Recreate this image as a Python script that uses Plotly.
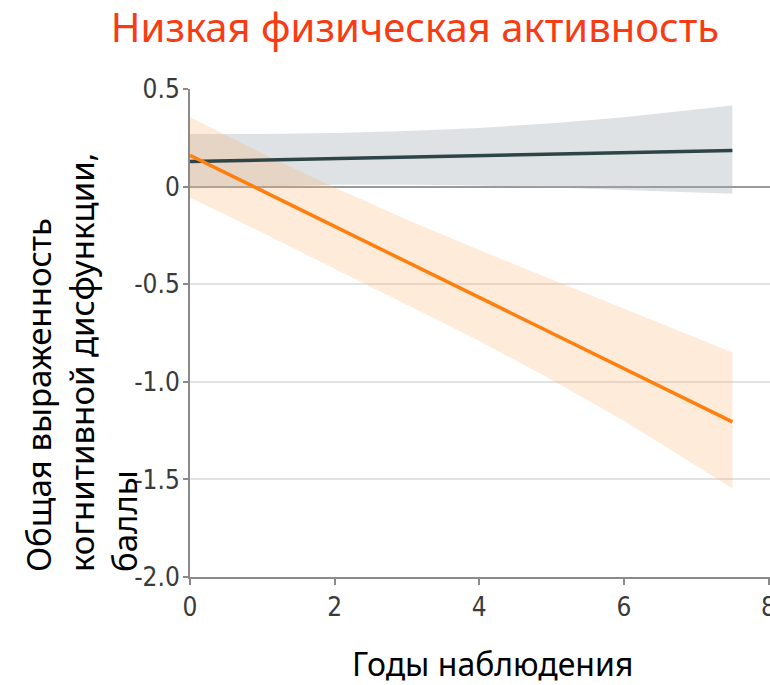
import plotly.graph_objects as go

# Follow-up years at which the fitted lines and confidence bands are given
years = [0, 1, 2, 3, 4, 5, 6, 7, 7.5]

# Reference group (dark line with grey band)
ref_line_x = [0, 7.5]
ref_line_y = [0.128, 0.185]
ref_upper = [0.27, 0.27, 0.275, 0.285, 0.30, 0.325, 0.355, 0.395, 0.415]
ref_lower = [-0.01, 0.0, 0.01, 0.01, 0.005, -0.005, -0.015, -0.03, -0.036]

# Low physical activity group (orange line with orange band)
low_line_x = [0, 7.5]
low_line_y = [0.16, -1.205]
low_upper = [0.355, 0.17, -0.005, -0.17, -0.325, -0.475, -0.625, -0.775, -0.85]
low_lower = [-0.056, -0.235, -0.42, -0.605, -0.79, -0.99, -1.2, -1.43, -1.545]

y_tickvals = [0.5, 0, -0.5, -1.0, -1.5, -2.0]
y_ticktext = ["0.5", "0", "-0.5", "-1.0", "-1.5", "-2.0"]
x_tickvals = [0, 2, 4, 6, 8]

title_text = "Низкая физическая активность"
x_title = "Годы наблюдения"
y_title = "Общая выраженность<br>когнитивной дисфункции,<br>баллы"

W, H = 770, 685
L, R, T, B = 190, 0, 89, 108
X_MAX = 8.02

fig = go.Figure()


def band(xs, lo, hi, color):
    fig.add_trace(go.Scatter(
        x=list(xs) + list(xs)[::-1],
        y=list(hi) + list(lo)[::-1],
        fill="toself", fillcolor=color,
        line=dict(width=0), mode="lines",
        hoverinfo="skip", showlegend=False,
    ))


band(years, ref_lower, ref_upper, "rgba(160,170,175,0.34)")
band(years, low_lower, low_upper, "rgba(250,178,110,0.26)")

fig.add_trace(go.Scatter(
    x=ref_line_x, y=ref_line_y, mode="lines",
    line=dict(color="#2e4548", width=3.5), showlegend=False,
))
fig.add_trace(go.Scatter(
    x=low_line_x, y=low_line_y, mode="lines",
    line=dict(color="#ff7f0e", width=3.5), showlegend=False,
))

tick_font = dict(family="Liberation Sans Narrow, DejaVu Sans Condensed, sans-serif",
                 size=26, color="#3a3a3a")

fig.update_layout(
    width=W, height=H,
    margin=dict(l=L, r=R, t=T, b=B, autoexpand=False),
    paper_bgcolor="white", plot_bgcolor="white",
    title=dict(
        text=title_text, x=415 / W, xanchor="center",
        y=1 - 28 / H, yanchor="middle",
        font=dict(family="Noto Sans, Open Sans, sans-serif", size=40, color="#f93b13"),
    ),
    xaxis=dict(
        range=[0, X_MAX], tickvals=x_tickvals, ticktext=[str(v) for v in x_tickvals],
        showgrid=False, zeroline=False,
        showline=True, linecolor="#8a8a8a", linewidth=2,
        ticks="outside", ticklen=6, tickwidth=2, tickcolor="#8a8a8a",
        ticklabeloverflow="allow", automargin=False,
        tickfont=tick_font,
    ),
    yaxis=dict(
        range=[-2.0, 0.5], tickvals=y_tickvals, ticktext=y_ticktext,
        showgrid=True, gridcolor="#e2e2e2", gridwidth=2,
        zeroline=True, zerolinecolor="#9a9a9a", zerolinewidth=2,
        showline=True, linecolor="#8a8a8a", linewidth=2,
        ticks="outside", ticklen=5, tickwidth=2, tickcolor="#8a8a8a",
        ticklabelstandoff=-2, automargin=False,
        tickfont=tick_font,
    ),
    annotations=[
        dict(
            text=x_title, xref="paper", yref="paper",
            x=(492 - L) / (W - L - R), y=-(663 - (H - B)) / (H - T - B),
            xanchor="center", yanchor="middle", showarrow=False,
            font=dict(family="Noto Sans, Open Sans, sans-serif", size=32, color="black"),
        ),
        dict(
            text=y_title, xref="paper", yref="paper",
            x=(14 - L) / (W - L - R), y=(H - B - 574) / (H - T - B),
            xanchor="left", yanchor="bottom", showarrow=False,
            textangle=-90, align="left",
            font=dict(family="Noto Sans, Open Sans, sans-serif", size=33, color="black"),
        ),
    ],
)

fig.write_html("out.html")
